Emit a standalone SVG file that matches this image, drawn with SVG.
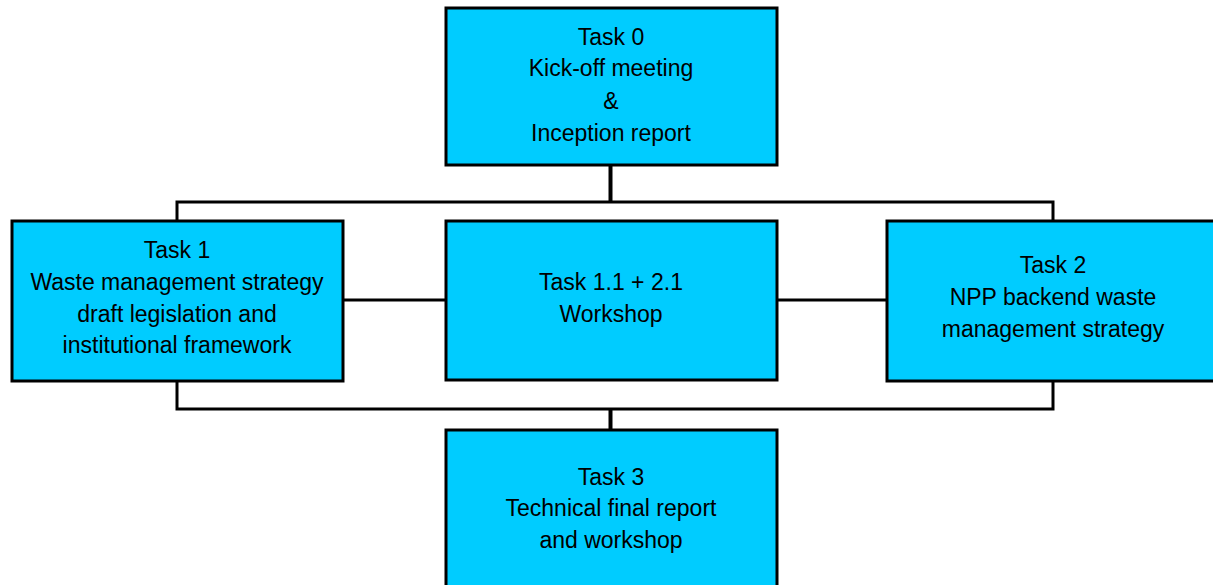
<svg xmlns="http://www.w3.org/2000/svg" width="1213" height="585" viewBox="0 0 1213 585">
<style>
.box{fill:#00CCFF;stroke:#000;stroke-width:3}
.ln{fill:none;stroke:#000;stroke-width:3}
.trunk{fill:none;stroke:#000;stroke-width:4}
text{font-family:"Liberation Sans",Arial,sans-serif;font-size:23px;fill:#000;text-anchor:middle}
</style>
<rect width="1213" height="585" fill="#fff"/>
<g id="connectors">
<path class="ln" d="M177,221 V202 H1053 V221"/>
<path class="ln" d="M177,381 V409 H1053 V381"/>
<path class="ln" d="M343,300 H446"/>
<path class="ln" d="M777,300 H887"/>
<path class="trunk" d="M610.5,165 V202"/>
<path class="trunk" d="M610.5,409 V430"/>
</g>
<g id="task0">
<rect class="box" x="446" y="8" width="331" height="157"/>
<text x="611" y="45">Task 0</text>
<text x="611" y="76">Kick-off meeting</text>
<text x="611" y="109">&amp;</text>
<text x="611" y="141">Inception report</text>
</g>
<g id="task1">
<rect class="box" x="12" y="221" width="331" height="160"/>
<text x="177" y="258">Task 1</text>
<text x="177" y="290">Waste management strategy</text>
<text x="177" y="322">draft legislation and</text>
<text x="177" y="353">institutional framework</text>
</g>
<g id="task11_21">
<rect class="box" x="446" y="221" width="331" height="159"/>
<text x="611" y="290">Task 1.1 + 2.1</text>
<text x="611" y="322">Workshop</text>
</g>
<g id="task2">
<rect class="box" x="887" y="221" width="333" height="160"/>
<text x="1053" y="273">Task 2</text>
<text x="1053" y="305">NPP backend waste</text>
<text x="1053" y="337">management strategy</text>
</g>
<g id="task3">
<rect class="box" x="446" y="430" width="331" height="170"/>
<text x="611" y="485">Task 3</text>
<text x="611" y="516">Technical final report</text>
<text x="611" y="548">and workshop</text>
</g>
</svg>
